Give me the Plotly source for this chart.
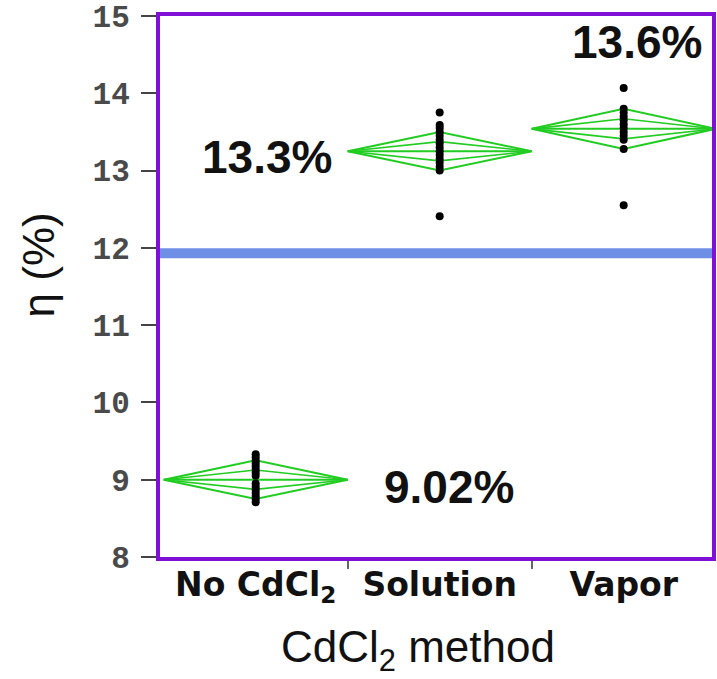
import plotly.graph_objects as go

# ---------------- data ----------------
categories = ["No CdCl<sub>2</sub>", "Solution", "Vapor"]
means = [9.00, 13.25, 13.54]
ci_half = [0.25, 0.25, 0.26]
mean_labels = ["9.02%", "13.3%", "13.6%"]

eff_no = [9.33, 9.29, 9.25, 9.21, 9.17, 9.13, 9.09, 9.05, 8.95, 8.91, 8.87, 8.83, 8.79, 8.75, 8.71]
eff_solution = [13.75, 13.59, 13.55, 13.50, 13.45, 13.40, 13.35, 13.30, 13.25, 13.20, 13.15,
                13.10, 13.05, 13.00, 12.41]
eff_vapor = [14.07, 13.80, 13.75, 13.70, 13.65, 13.60, 13.55, 13.50, 13.45, 13.40, 13.28, 12.55]
grand_mean = 11.93

y_ticks = [8, 9, 10, 11, 12, 13, 14, 15]

# ---------------- layout params ----------------
label_x = [1.05, 0.063, 2.07]
label_y = [8.90, 13.17, 14.66]
GREEN = "#22cc22"
PURPLE = "#8010d8"

fig = go.Figure()

groups = [eff_no, eff_solution, eff_vapor]
half_w = 0.5
inner = 0.5
for i, (m, h) in enumerate(zip(means, ci_half)):
    # outer diamond
    fig.add_trace(go.Scatter(
        x=[i - half_w, i, i + half_w, i, i - half_w],
        y=[m, m + h, m, m - h, m],
        mode="lines", line=dict(color=GREEN, width=2), hoverinfo="skip", showlegend=False))
    # overlap marks (inner diamond)
    fig.add_trace(go.Scatter(
        x=[i - half_w, i, i + half_w, i, i - half_w],
        y=[m, m + h * inner, m, m - h * inner, m],
        mode="lines", line=dict(color=GREEN, width=1.6), hoverinfo="skip", showlegend=False))
    # mean line
    fig.add_trace(go.Scatter(
        x=[i - half_w, i + half_w], y=[m, m],
        mode="lines", line=dict(color=GREEN, width=2), hoverinfo="skip", showlegend=False))

for i, vals in enumerate(groups):
    fig.add_trace(go.Scatter(
        x=[i] * len(vals), y=vals, mode="markers",
        marker=dict(color="black", size=8, symbol="circle"),
        showlegend=False))

fig.add_shape(type="line", xref="paper", yref="y", x0=0, x1=1, y0=grand_mean, y1=grand_mean,
              line=dict(color="#6f8fe6", width=10), layer="below")

for lx, ly, t in zip(label_x, label_y, mean_labels):
    fig.add_annotation(x=lx, y=ly, xref="x", yref="y", text=t, showarrow=False,
                       font=dict(family="Liberation Sans, Arial", size=46, color="#111111",
                                 weight="bold"),
                       xanchor="center", yanchor="middle")

# axis titles as annotations
fig.add_annotation(x=0.468, y=-0.172, xref="paper", yref="paper",
                   text="CdCl<sub>2</sub> method", showarrow=False,
                   font=dict(family="Liberation Sans, Arial", size=44, color="#111111"),
                   xanchor="center", yanchor="middle")
fig.add_annotation(x=-0.221, y=0.539, xref="paper", yref="paper",
                   text="η (%)", showarrow=False, textangle=-90,
                   font=dict(family="Liberation Sans, Arial", size=44, color="#111111"),
                   xanchor="center", yanchor="middle")

fig.update_layout(
    width=717, height=679,
    margin=dict(l=160, r=1, t=15, b=122),
    paper_bgcolor="white", plot_bgcolor="white",
    font=dict(family="Liberation Sans, Arial", color="#111111"),
    xaxis=dict(
        range=[-0.52, 2.48], tickmode="array", tickvals=[0, 1, 2], ticktext=categories,
        ticks="", showgrid=False, zeroline=False,
        showline=True, linecolor=PURPLE, linewidth=4, mirror=True,
        tickfont=dict(family="DejaVu Sans", size=33, color="#111111", weight="bold"),
        ticklabelstandoff=-5,
        minor=dict(tickmode="array", tickvals=[0.5, 1.5], ticks="outside", ticklen=8,
                   tickwidth=1.5, tickcolor="#666666", showgrid=False),
    ),
    yaxis=dict(
        range=[8, 15], tickmode="array", tickvals=y_ticks,
        ticks="outside", ticklen=15, tickwidth=2, tickcolor="#444444",
        showgrid=False, zeroline=False,
        showline=True, linecolor=PURPLE, linewidth=4, mirror=True,
        tickfont=dict(family="Liberation Mono", size=31, color="#4a4a4a", weight="bold"),
        ticklabelstandoff=5, ticklabeloverflow="allow",
    ),
)

fig.write_html("out.html")
